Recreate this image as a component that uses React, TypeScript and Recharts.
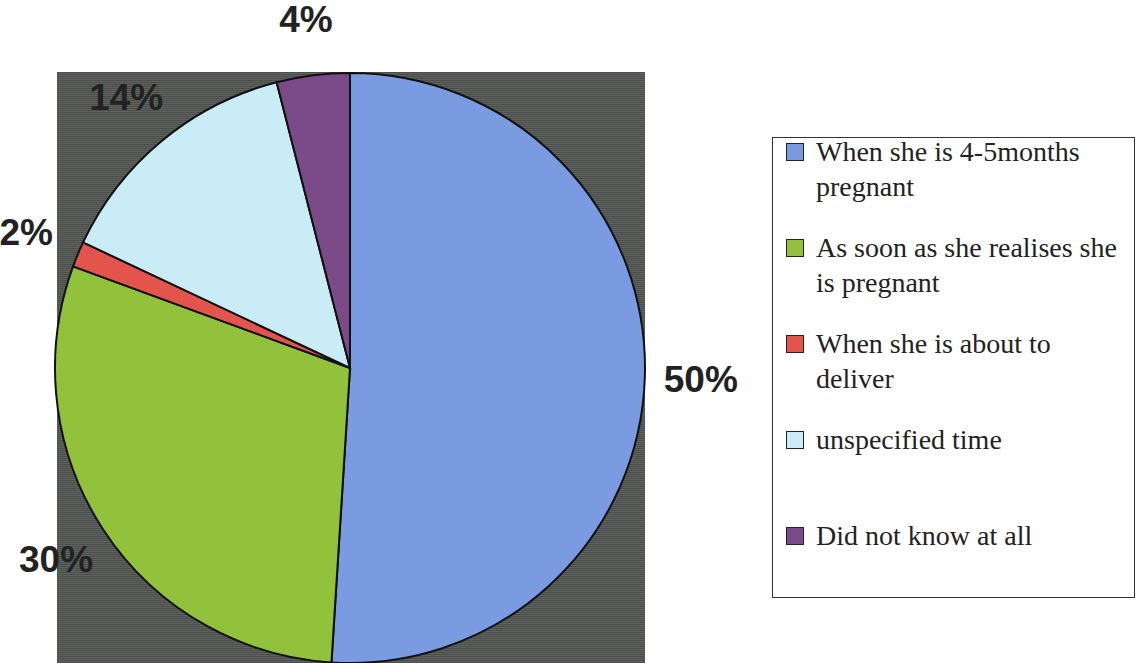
import React from 'react'
import { PieChart, Pie, Cell, Legend } from 'recharts'

const categories = [
  'When she is 4-5months\npregnant',
  'As soon as she realises she\nis pregnant',
  'When she is about to\ndeliver',
  'unspecified time',
  'Did not know at all',
]
const shares = [51, 29.6, 1.4, 14, 4]
const shareLabels = ['50%', '30%', '2%', '14%', '4%']
const colors = ['#7a9be2', '#92c23c', '#e2544c', '#c9ecf6', '#7b4a88']

const data = categories.map((name, i) => ({ name, value: shares[i] }))

const RADIAN = Math.PI / 180

const renderLabel = (props: any) => {
  const { cx, cy, midAngle, outerRadius, index } = props
  const r = outerRadius + 56
  const x = cx + r * Math.cos(-midAngle * RADIAN)
  const y = cy + r * Math.sin(-midAngle * RADIAN)
  return (
    <text
      x={x}
      y={y}
      fill="#222"
      textAnchor="middle"
      dominantBaseline="central"
      fontFamily="Arial, 'Liberation Sans', sans-serif"
      fontWeight={700}
      fontSize={37}
    >
      {shareLabels[index]}
    </text>
  )
}

const renderLegend = () => (
  <div
    style={{
      width: 361,
      height: 459,
      border: '1.5px solid #333',
      background: '#fff',
      boxSizing: 'content-box',
    }}
  >
    <div style={{ marginTop: -4 }}>
      {categories.map((name, i) => (
        <div key={name} style={{ height: 96, display: 'flex', alignItems: 'flex-start' }}>
          <div
            style={{
              width: 16,
              height: 16,
              marginLeft: 13,
              marginTop: 9,
              marginRight: 12,
              background: colors[i],
              border: '1.5px solid #222',
              flexShrink: 0,
            }}
          />
          <div
            style={{
              fontFamily: "'Times New Roman', 'Liberation Serif', serif",
              fontSize: 28,
              lineHeight: '35px',
              color: '#222',
              whiteSpace: 'pre-line',
            }}
          >
            {name}
          </div>
        </div>
      ))}
    </div>
  </div>
)

export default function App() {
  return (
    <div style={{ position: 'absolute', left: 0, top: 0, width: 1138, height: 663, background: '#fff', overflow: 'hidden' }}>
      <div
        style={{
          position: 'absolute',
          left: 57,
          top: 72,
          width: 588,
          height: 591,
          background: 'repeating-linear-gradient(0deg, #4c4f4c 0px, #4c4f4c 1px, #5e625e 1px, #5e625e 2px)',
        }}
      />
      <div style={{ position: 'absolute', left: 0, top: 0 }}>
        <PieChart width={1138} height={663} margin={{ top: 0, right: 0, bottom: 0, left: 0 }}>
          <Pie
            data={data}
            dataKey="value"
            nameKey="name"
            cx={350}
            cy={368}
            outerRadius={295}
            startAngle={90}
            endAngle={-270}
            stroke="#111"
            strokeWidth={2}
            label={renderLabel}
            labelLine={false}
            isAnimationActive={false}
          >
            {data.map((d, i) => (
              <Cell key={d.name} fill={colors[i]} />
            ))}
          </Pie>
          <Legend
            content={renderLegend}
            wrapperStyle={{ position: 'absolute', left: 772, top: 137, width: 364, height: 462 }}
          />
        </PieChart>
      </div>
    </div>
  )
}
